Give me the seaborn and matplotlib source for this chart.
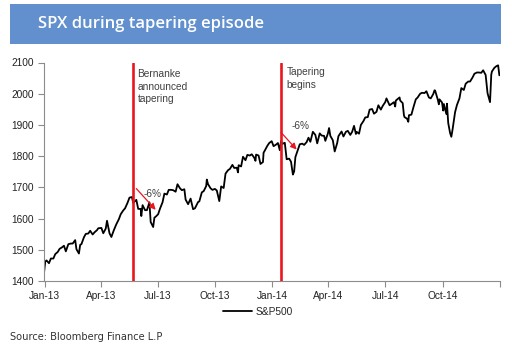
import matplotlib
matplotlib.use("Agg")
import matplotlib.pyplot as plt
import matplotlib.dates as mdates
from matplotlib.patches import Rectangle
import pandas as pd
import seaborn as sns

# S&P 500 closing levels, end-2012 through end-2014
dates = [
    "2012-12-31", "2013-01-02", "2013-01-04", "2013-01-08", "2013-01-11", "2013-01-15", "2013-01-18",
    "2013-01-22", "2013-01-25", "2013-01-29", "2013-02-01", "2013-02-04", "2013-02-08", "2013-02-12",
    "2013-02-15", "2013-02-19", "2013-02-21", "2013-02-25", "2013-02-27", "2013-03-01", "2013-03-05",
    "2013-03-08", "2013-03-12", "2013-03-15", "2013-03-19", "2013-03-22", "2013-03-26", "2013-03-28",
    "2013-04-02", "2013-04-05", "2013-04-09", "2013-04-11", "2013-04-15", "2013-04-18", "2013-04-22",
    "2013-04-26", "2013-04-30", "2013-05-03", "2013-05-07", "2013-05-10", "2013-05-14", "2013-05-17",
    "2013-05-21", "2013-05-23", "2013-05-28", "2013-05-31", "2013-06-04", "2013-06-05", "2013-06-07",
    "2013-06-11", "2013-06-14", "2013-06-18", "2013-06-20", "2013-06-24", "2013-06-26", "2013-06-28",
    "2013-07-02", "2013-07-05", "2013-07-09", "2013-07-12", "2013-07-16", "2013-07-19", "2013-07-23",
    "2013-07-26", "2013-07-30", "2013-08-02", "2013-08-06", "2013-08-09", "2013-08-13", "2013-08-15",
    "2013-08-19", "2013-08-23", "2013-08-27", "2013-08-30", "2013-09-04", "2013-09-06", "2013-09-10",
    "2013-09-13", "2013-09-17", "2013-09-18", "2013-09-20", "2013-09-24", "2013-09-27", "2013-10-01",
    "2013-10-04", "2013-10-08", "2013-10-11", "2013-10-15", "2013-10-18", "2013-10-22", "2013-10-25",
    "2013-10-29", "2013-11-01", "2013-11-05", "2013-11-07", "2013-11-08", "2013-11-12", "2013-11-15",
    "2013-11-19", "2013-11-22", "2013-11-26", "2013-11-29", "2013-12-03", "2013-12-05", "2013-12-06",
    "2013-12-10", "2013-12-13", "2013-12-17", "2013-12-18", "2013-12-20", "2013-12-24", "2013-12-27",
    "2013-12-31", "2014-01-03", "2014-01-07", "2014-01-10", "2014-01-13", "2014-01-15", "2014-01-17",
    "2014-01-21", "2014-01-24", "2014-01-28", "2014-01-31", "2014-02-03", "2014-02-05", "2014-02-07",
    "2014-02-11", "2014-02-14", "2014-02-18", "2014-02-21", "2014-02-25", "2014-02-28", "2014-03-03",
    "2014-03-07", "2014-03-11", "2014-03-14", "2014-03-18", "2014-03-21", "2014-03-25", "2014-03-27",
    "2014-03-31", "2014-04-02", "2014-04-04", "2014-04-08", "2014-04-11", "2014-04-15", "2014-04-17",
    "2014-04-22", "2014-04-25", "2014-04-29", "2014-05-02", "2014-05-06", "2014-05-09", "2014-05-12",
    "2014-05-15", "2014-05-16", "2014-05-20", "2014-05-23", "2014-05-27", "2014-05-30", "2014-06-03",
    "2014-06-06", "2014-06-10", "2014-06-13", "2014-06-17", "2014-06-20", "2014-06-24", "2014-06-27",
    "2014-07-01", "2014-07-03", "2014-07-08", "2014-07-11", "2014-07-15", "2014-07-17", "2014-07-18",
    "2014-07-24", "2014-07-25", "2014-07-29", "2014-07-31", "2014-08-01", "2014-08-05", "2014-08-07",
    "2014-08-08", "2014-08-12", "2014-08-15", "2014-08-19", "2014-08-22", "2014-08-26", "2014-08-29",
    "2014-09-02", "2014-09-05", "2014-09-09", "2014-09-12", "2014-09-16", "2014-09-18", "2014-09-19",
    "2014-09-23", "2014-09-25", "2014-09-26", "2014-09-30", "2014-10-02", "2014-10-03", "2014-10-07",
    "2014-10-08", "2014-10-10", "2014-10-13", "2014-10-15", "2014-10-17", "2014-10-21", "2014-10-24",
    "2014-10-28", "2014-10-31", "2014-11-04", "2014-11-07", "2014-11-11", "2014-11-14", "2014-11-18",
    "2014-11-21", "2014-11-25", "2014-11-28", "2014-12-02", "2014-12-05", "2014-12-09", "2014-12-12",
    "2014-12-16", "2014-12-18", "2014-12-19", "2014-12-23", "2014-12-26", "2014-12-29", "2014-12-31",
]
spx = [
    1426, 1462, 1466, 1457, 1472, 1472, 1486,
    1493, 1503, 1508, 1513, 1495, 1518, 1520,
    1520, 1531, 1502, 1488, 1516, 1518, 1540,
    1551, 1552, 1561, 1549, 1556, 1563, 1569,
    1570, 1553, 1568, 1593, 1553, 1541, 1563,
    1582, 1598, 1614, 1626, 1633, 1651, 1667,
    1669, 1650, 1660, 1631, 1631, 1608, 1643,
    1627, 1627, 1652, 1589, 1573, 1603, 1606,
    1614, 1632, 1652, 1680, 1677, 1692, 1692,
    1691, 1686, 1710, 1697, 1691, 1694, 1661,
    1646, 1664, 1630, 1633, 1653, 1655, 1684,
    1688, 1704, 1725, 1710, 1697, 1692, 1695,
    1690, 1656, 1703, 1698, 1744, 1755, 1759,
    1772, 1762, 1763, 1748, 1771, 1767, 1798,
    1787, 1804, 1802, 1806, 1795, 1785, 1805,
    1802, 1775, 1781, 1811, 1818, 1833, 1842,
    1848, 1832, 1837, 1842, 1819, 1848, 1839,
    1843, 1790, 1792, 1782, 1741, 1751, 1797,
    1820, 1838, 1840, 1836, 1845, 1859, 1846,
    1878, 1868, 1841, 1873, 1866, 1865, 1849,
    1872, 1890, 1865, 1851, 1815, 1842, 1864,
    1879, 1863, 1878, 1881, 1868, 1878, 1897,
    1871, 1878, 1872, 1900, 1912, 1924, 1925,
    1949, 1951, 1936, 1942, 1963, 1949, 1961,
    1973, 1985, 1963, 1967, 1973, 1959, 1978,
    1988, 1978, 1970, 1931, 1925, 1920, 1910,
    1931, 1933, 1955, 1982, 1988, 2000, 2003,
    2002, 2008, 1988, 1985, 1999, 2011, 2010,
    1983, 1966, 1982, 1972, 1946, 1967, 1935,
    1968, 1906, 1874, 1862, 1886, 1941, 1964,
    1985, 2018, 2012, 2032, 2039, 2039, 2052,
    2064, 2068, 2068, 2067, 2075, 2060, 2002,
    1973, 2061, 2071, 2083, 2088, 2091, 2059,
]

tick_dates = ["2013-01-01", "2013-04-01", "2013-07-01", "2013-10-01",
              "2014-01-01", "2014-04-01", "2014-07-01", "2014-10-01", "2015-01-01"]
tick_labels = ["Jan-13", "Apr-13", "Jul-13", "Oct-13",
               "Jan-14", "Apr-14", "Jul-14", "Oct-14", ""]
y_ticks = [1400, 1500, 1600, 1700, 1800, 1900, 2000, 2100]

events = ["2013-05-22", "2014-01-15"]
event_labels = ["Bernanke\nannounced\ntapering", "Tapering\nbegins"]
event_label_pos = [("2013-05-30", 2080), ("2014-01-24", 2084)]

drawdowns = [
    # (arrow start date, start level, arrow end date, end level, label date, label level)
    ("2013-05-28", 1696, "2013-06-28", 1628, "2013-06-09", 1680),
    ("2014-01-15", 1876, "2014-02-09", 1821, "2014-02-01", 1895),
]

df = pd.DataFrame({"date": pd.to_datetime(dates), "S&P500": spx})

sns.set_theme(style="white")
plt.rcParams["font.family"] = ["Liberation Sans", "DejaVu Sans"]

fig = plt.figure(figsize=(5.12, 3.46), dpi=100)
ax = fig.add_axes([44 / 512, 65 / 346, 456 / 512, 218.5 / 346])

sns.lineplot(data=df, x="date", y="S&P500", ax=ax, color="black",
             linewidth=1.3, label="S&P500")

red = "#E8161E"
for d in events:
    ax.axvline(pd.Timestamp(d), color=red, linewidth=1.9, zorder=3)

text_color = "#404040"
for (d, v), lab in zip(event_label_pos, event_labels):
    ax.text(pd.Timestamp(d), v, lab, ha="left", va="top", fontsize=7.3,
            color=text_color, linespacing=1.35)

for sd, sv, ed, ev, ld, lv in drawdowns:
    ax.annotate("", xy=(pd.Timestamp(ed), ev), xytext=(pd.Timestamp(sd), sv),
                arrowprops=dict(arrowstyle="-|>", color=red, lw=0.9,
                                mutation_scale=9, shrinkA=0, shrinkB=0),
                zorder=4)
    ax.text(pd.Timestamp(ld), lv, "-6%", ha="left", va="center",
            fontsize=7.3, color=text_color, zorder=5)

ax.set_xlim(pd.Timestamp("2012-12-31"), pd.Timestamp("2015-01-01"))
ax.set_ylim(1400, 2100)
ax.set_xticks(pd.to_datetime(tick_dates))
ax.set_xticklabels(tick_labels)
ax.set_yticks(y_ticks)
ax.set_xlabel("")
ax.set_ylabel("")

spine_color = "#8C8C8C"
for side in ["top", "right"]:
    ax.spines[side].set_visible(False)
for side in ["left", "bottom"]:
    ax.spines[side].set_color(spine_color)
    ax.spines[side].set_linewidth(0.8)
ax.tick_params(axis="both", which="major", direction="out", length=4,
               width=0.8, color=spine_color, labelsize=7.3,
               labelcolor="#222222", pad=3.5)
ax.tick_params(axis="x", bottom=True)
ax.tick_params(axis="y", left=True)

ax.legend(loc="center", bbox_to_anchor=(258 / 512, 1 - 312 / 346),
          bbox_transform=fig.transFigure, frameon=False, fontsize=7.3,
          handlelength=2.9, handletextpad=0.35, borderpad=0)

# title banner
fig.patches.append(Rectangle((10 / 512, 1 - 44 / 346), 491 / 512, 40 / 346,
                             transform=fig.transFigure, facecolor="#6290CE",
                             edgecolor="none", zorder=0))
fig.text(38 / 512, 1 - 24 / 346, "SPX during tapering episode",
         color="white", fontsize=12, fontweight="semibold", va="center",
         ha="left", family=["Open Sans", "DejaVu Sans"])

fig.text(10 / 512, 1 - 337 / 346, "Source: Bloomberg Finance L.P",
         color="#333333", fontsize=7.1, va="center", ha="left",
         family=["DejaVu Sans"])

fig.savefig("out.png", dpi=100, facecolor="white")
